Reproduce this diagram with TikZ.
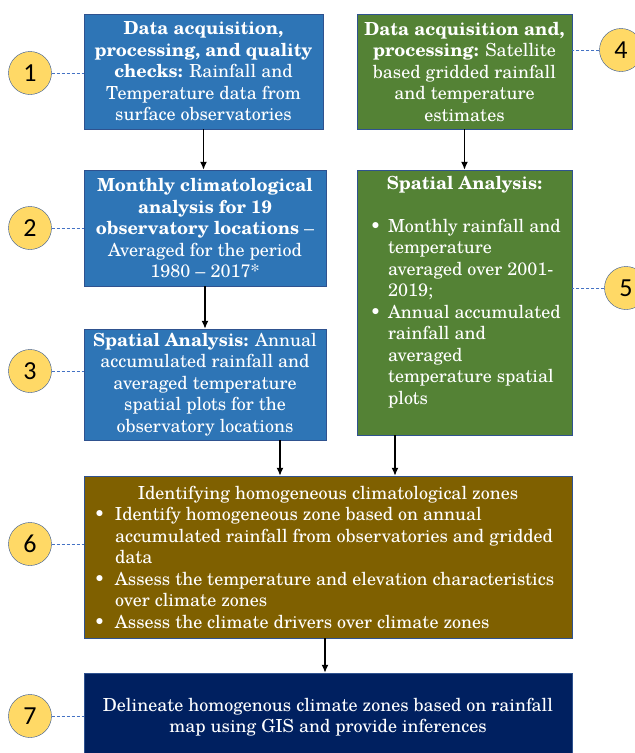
\documentclass[tikz,border=0pt]{standalone}
\usepackage{fontspec}
\setmainfont{TeX Gyre Schola}
\newfontfamily\numfont{Carlito}
\usepackage{xcolor}
\usepackage{tikz}
\usetikzlibrary{arrows.meta, shapes.geometric, positioning, calc}

\definecolor{boxblue}{HTML}{2E75B6}
\definecolor{boxgreen}{HTML}{548235}
\definecolor{boxbrown}{HTML}{7F6000}
\definecolor{boxnavy}{HTML}{002060}
\definecolor{edgeblue}{HTML}{2F528F}
\definecolor{dashblue}{HTML}{4472C4}
\definecolor{numyellow}{HTML}{FFD966}

% bullet with hanging indent
\newcommand{\bul}[1]{\par\noindent\hangindent=#1\hangafter=1\makebox[#1][l]{\hspace{4pt}\textbullet}}

\begin{document}
\begin{tikzpicture}[x=1pt, y=-1pt,
    stepbox/.style={draw=edgeblue, thin, text=white, inner sep=4pt, align=center,
      font=\fontsize{18}{21.5}\selectfont},
    numcirc/.style={circle, draw=edgeblue, fill=numyellow, minimum size=43pt, inner sep=0pt,
      font=\numfont\fontsize{26}{26}\selectfont},
    link/.style={dashblue, densely dashed, thin},
    flow/.style={-{Latex[length=8pt, width=7pt]}, line width=1.5pt}]
    \useasboundingbox (0,0) rectangle (635,753);

    % Observatory data
    \node[stepbox, fill=boxblue, minimum width=239pt, minimum height=115pt] (acq) at (203.5,71.5)
      {\textbf{Data acquisition,}\\ \textbf{processing, and quality}\\ \textbf{checks:} Rainfall and\\
       Temperature data from\\ surface observatories};
    \node[stepbox, fill=boxblue, minimum width=242pt, minimum height=116pt] (clim) at (205,228)
      {\textbf{Monthly climatological}\\ \textbf{analysis for 19}\\ \textbf{observatory locations} --\\
       Averaged for the period\\ 1980 -- 2017*};
    \node[stepbox, fill=boxblue, minimum width=242pt, minimum height=111pt] (spat) at (205,384.5)
      {\textbf{Spatial Analysis:} Annual\\ accumulated rainfall and\\ averaged temperature\\
       spatial plots for the\\ observatory locations};

    % Satellite data
    \node[stepbox, fill=boxgreen, minimum width=215pt, minimum height=115pt] (sat) at (464.5,71.5)
      {\textbf{Data acquisition and,}\\ \textbf{processing:} Satellite\\ based gridded rainfall\\
       and temperature\\ estimates};
    \node[stepbox, fill=boxgreen, minimum width=215pt, minimum height=265pt, inner xsep=9pt,
      text width=197pt, align=flush left] (satspat) at (464.5,302.5)
      {\makebox[\linewidth]{\textbf{Spatial Analysis:}}\par\mbox{}
       \bul{22pt}Monthly rainfall and\newline temperature\newline averaged over 2001-\newline 2019;
       \bul{22pt}Annual accumulated\newline rainfall and\newline averaged\newline temperature spatial\newline
       plots\rule[-25pt]{0pt}{25pt}\par};

    % Zones
    \node[stepbox, fill=boxbrown, minimum width=488pt, minimum height=162pt, inner xsep=6pt,
      text width=476pt, align=flush left] (zones) at (328,557)
      {\makebox[\linewidth]{Identifying homogeneous climatological zones}
       \bul{25pt}Identify homogeneous zone based on annual\newline accumulated rainfall from observatories and gridded\newline data
       \bul{25pt}Assess the temperature and elevation characteristics\newline over climate zones
       \bul{25pt}Assess the climate drivers over climate zones\par};
    \node[stepbox, fill=boxnavy, minimum width=488pt, minimum height=88pt] (delin) at (328,717)
      {Delineate homogenous climate zones based on rainfall\\ map using GIS and provide inferences};

    % arrows
    \draw[flow] (acq.south) -- (acq.south |- clim.north);
    \draw[flow] (clim.south) -- (clim.south |- spat.north);
    \draw[flow] (sat.south) -- (sat.south |- satspat.north);
    \draw[flow] ([xshift=75pt]spat.south) -- ([xshift=75pt]spat.south |- zones.north);
    \draw[flow] ([xshift=-69.5pt]satspat.south) -- ([xshift=-69.5pt]satspat.south |- zones.north);
    \draw[flow] ([xshift=-3pt]zones.south) -- ([xshift=-3pt]zones.south |- delin.north);

    % numbers
    \node[numcirc] (n1) at (30,73) {1};
    \node[numcirc] (n2) at (30,228) {2};
    \node[numcirc] (n3) at (30,371) {3};
    \node[numcirc] (n4) at (621,50) {4};
    \node[numcirc] (n5) at (626,288) {5};
    \node[numcirc] (n6) at (30,544) {6};
    \node[numcirc] (n7) at (30,716) {7};
    \draw[link] (n1.east) -- (n1 -| acq.west);
    \draw[link] (n2.east) -- (n2 -| clim.west);
    \draw[link] (n3.east) -- (n3 -| spat.west);
    \draw[link] (n4.west) -- (n4 -| sat.east);
    \draw[link] (n5.west) -- (n5 -| satspat.east);
    \draw[link] (n6.east) -- (n6 -| zones.west);
    \draw[link] (n7.east) -- (n7 -| delin.west);
\end{tikzpicture}
\end{document}
